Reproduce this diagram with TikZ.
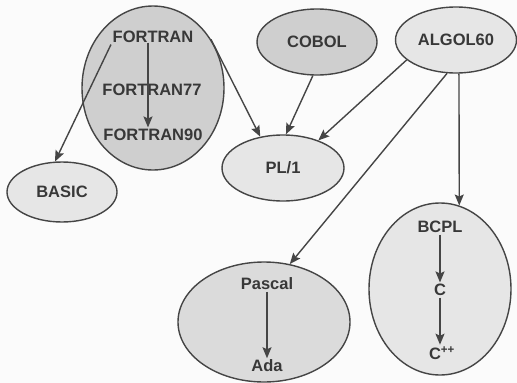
\documentclass[tikz,border=0pt]{standalone}
\usepackage{fontspec}
\setmainfont{Liberation Sans}
\usetikzlibrary{arrows.meta,shapes.geometric}
\definecolor{bgpaper}{HTML}{FBFBFB}
\definecolor{inkline}{HTML}{454545}
\definecolor{inktext}{HTML}{383838}
\definecolor{darkfill}{HTML}{CFCFCF}
\definecolor{midfill}{HTML}{DBDBDB}
\definecolor{lightfill}{HTML}{E6E6E6}
\tikzset{
  lang/.style={ellipse, draw=inkline, line width=1.4pt, inner sep=0pt},
  langname/.style={text=inktext, font=\fontsize{16.5}{19}\selectfont\bfseries, inner sep=1.5pt},
  link/.style={draw=inkline, line width=1.4pt, -{Stealth[length=11pt,width=9pt,inset=2pt]}},
}
\begin{document}
\begin{tikzpicture}[x=1pt,y=-1pt]
\fill[bgpaper] (0,0) rectangle (517,383);
\useasboundingbox (0,0) rectangle (517,383);

% language families
\node[lang, fill=darkfill,  minimum width=142pt, minimum height=164pt] (fortran) at (153,88) {};
\node[lang, fill=lightfill, minimum width=110pt, minimum height=60pt]  (basic)   at (62,192) {};
\node[lang, fill=darkfill,  minimum width=120pt, minimum height=66pt]  (cobol)   at (317,42) {};
\node[lang, fill=lightfill, minimum width=121pt, minimum height=66pt]  (algol)   at (456,40) {};
\node[lang, fill=lightfill, minimum width=122pt, minimum height=66pt]  (pl1)     at (283,168) {};
\node[lang, fill=midfill,   minimum width=172pt, minimum height=120pt] (pascal)  at (264,322) {};
\node[lang, fill=lightfill, minimum width=142pt, minimum height=172pt] (bcpl)    at (440,289) {};

% names
\node[langname] (ft)   at (153,37)  {FORTRAN};
\node[langname] (f77)  at (152,90)  {FORTRAN77};
\node[langname] (f90)  at (153,135) {FORTRAN90};
\node[langname] (bt)   at (62,192)  {BASIC};
\node[langname] (ct)   at (317,42)  {COBOL};
\node[langname] (at)   at (456,40)  {ALGOL60};
\node[langname] (pt)   at (283,168) {PL/1};
\node[langname] (past) at (267,284) {Pascal};
\node[langname] (ada)  at (267,366) {Ada};
\node[langname] (bct)  at (440,227) {BCPL};
\node[langname] (c)    at (440,290) {C};
\node[langname] (cpp)  at (442,353) {C\textsuperscript{++}};

% derivations inside families
\draw[link] ([xshift=-5pt,yshift=2pt]ft.south) -- ([xshift=-5pt]f90.north);
\draw[link] (past.south) -- (ada.north);
\draw[link] (bct.south) -- (c.north);
\draw[link] (c.south) -- (c.south |- cpp.north);

% derivations between families
\draw[link] (ft.south west) -- (basic.103);
\draw[link] (fortran.40) -- (pl1.126);
\draw[link] (cobol.263) -- (pl1.85);
\draw[link] (algol.202) -- (pl1.38);
\draw[link] (algol.255) -- (pascal.66.5);
\draw[link] (algol.275) -- (bcpl.77);
\end{tikzpicture}
\end{document}
